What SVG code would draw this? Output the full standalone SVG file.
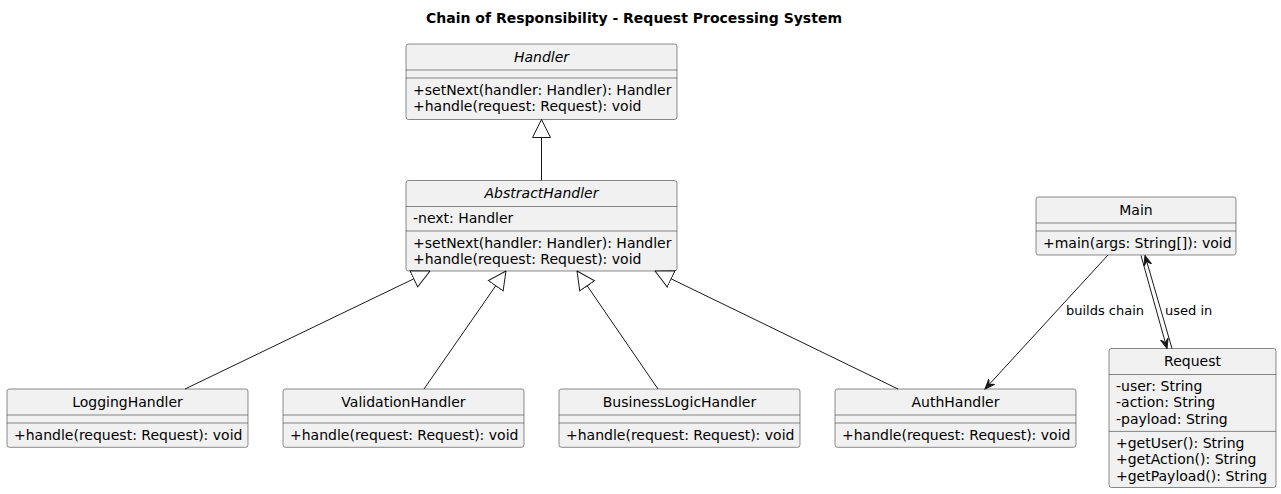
<svg xmlns="http://www.w3.org/2000/svg" width="1281" height="494" viewBox="0 0 1281 494">
<style>
text{font-family:"DejaVu Sans",Verdana,sans-serif;font-size:14px;fill:#000}
.title{font-weight:bold;text-anchor:middle}
.name{text-anchor:middle}
.abs{font-style:italic}
.box{fill:#F1F1F1;stroke:#181818;stroke-width:0.5}
.sep{stroke:#181818;stroke-width:0.5}
.edge{fill:none;stroke:#181818;stroke-width:1}
.lbl{font-size:13px}
</style>
<defs>
<marker id="tri" viewBox="0 0 19 20" refX="18.5" refY="10" markerWidth="19" markerHeight="20" markerUnits="userSpaceOnUse" orient="auto">
<path d="M18.5,10 L0.5,1 L0.5,19 Z" fill="#FFFFFF" stroke="#181818" stroke-width="1"/>
</marker>
<marker id="arr" viewBox="0 0 11 10" refX="10" refY="5" markerWidth="11" markerHeight="10" markerUnits="userSpaceOnUse" orient="auto">
<path d="M10,5 L0,1 L4,5 L0,9 Z" fill="#181818" stroke="#181818" stroke-width="1"/>
</marker>
</defs>
<rect width="1281" height="494" fill="#FFFFFF"/>
<text class="title" x="634" y="23">Chain of Responsibility - Request Processing System</text>

<g id="Handler">
<rect class="box" x="406" y="44" width="271" height="75.5" rx="2.5"/>
<text class="name abs" x="541.5" y="61.5">Handler</text>
<line class="sep" x1="406" y1="70" x2="677" y2="70"/>
<line class="sep" x1="406" y1="78" x2="677" y2="78"/>
<text x="413" y="94.5">+setNext(handler: Handler): Handler</text>
<text x="413" y="110.8">+handle(request: Request): void</text>
</g>

<g id="AbstractHandler">
<rect class="box" x="406" y="180.5" width="271" height="90.5" rx="2.5"/>
<text class="name abs" x="541.5" y="198">AbstractHandler</text>
<line class="sep" x1="406" y1="206.5" x2="677" y2="206.5"/>
<text x="413" y="223">-next: Handler</text>
<line class="sep" x1="406" y1="231" x2="677" y2="231"/>
<text x="413" y="247.5">+setNext(handler: Handler): Handler</text>
<text x="413" y="263.8">+handle(request: Request): void</text>
</g>

<g id="LoggingHandler">
<rect class="box" x="7" y="389" width="241" height="58.3" rx="2.5"/>
<text class="name" x="127.5" y="406.5">LoggingHandler</text>
<line class="sep" x1="7" y1="415" x2="248" y2="415"/>
<line class="sep" x1="7" y1="423" x2="248" y2="423"/>
<text x="14" y="439.5">+handle(request: Request): void</text>
</g>

<g id="ValidationHandler">
<rect class="box" x="283" y="389" width="241" height="58.3" rx="2.5"/>
<text class="name" x="403.5" y="406.5">ValidationHandler</text>
<line class="sep" x1="283" y1="415" x2="524" y2="415"/>
<line class="sep" x1="283" y1="423" x2="524" y2="423"/>
<text x="290" y="439.5">+handle(request: Request): void</text>
</g>

<g id="BusinessLogicHandler">
<rect class="box" x="559" y="389" width="241" height="58.3" rx="2.5"/>
<text class="name" x="679.5" y="406.5">BusinessLogicHandler</text>
<line class="sep" x1="559" y1="415" x2="800" y2="415"/>
<line class="sep" x1="559" y1="423" x2="800" y2="423"/>
<text x="566" y="439.5">+handle(request: Request): void</text>
</g>

<g id="AuthHandler">
<rect class="box" x="835" y="389" width="241" height="58.3" rx="2.5"/>
<text class="name" x="955.5" y="406.5">AuthHandler</text>
<line class="sep" x1="835" y1="415" x2="1076" y2="415"/>
<line class="sep" x1="835" y1="423" x2="1076" y2="423"/>
<text x="842" y="439.5">+handle(request: Request): void</text>
</g>

<g id="Main">
<rect class="box" x="1036" y="197" width="200" height="58" rx="2.5"/>
<text class="name" x="1136" y="214.5">Main</text>
<line class="sep" x1="1036" y1="223" x2="1236" y2="223"/>
<line class="sep" x1="1036" y1="231" x2="1236" y2="231"/>
<text x="1043" y="247.5">+main(args: String[]): void</text>
</g>

<g id="Request">
<rect class="box" x="1109" y="348.5" width="167" height="139" rx="2.5"/>
<text class="name" x="1192.5" y="366">Request</text>
<line class="sep" x1="1109" y1="374.5" x2="1276" y2="374.5"/>
<text x="1116" y="391">-user: String</text>
<text x="1116" y="407.3">-action: String</text>
<text x="1116" y="423.6">-payload: String</text>
<line class="sep" x1="1109" y1="431.4" x2="1276" y2="431.4"/>
<text x="1116" y="447.9">+getUser(): String</text>
<text x="1116" y="464.2">+getAction(): String</text>
<text x="1116" y="480.5">+getPayload(): String</text>
</g>

<g id="connectors">
<line class="edge" x1="541.5" y1="180.5" x2="541.5" y2="119.5" marker-end="url(#tri)"/>
<line class="edge" x1="185" y1="389" x2="430" y2="271" marker-end="url(#tri)"/>
<line class="edge" x1="424" y1="389" x2="506" y2="271" marker-end="url(#tri)"/>
<line class="edge" x1="658" y1="389" x2="577" y2="271" marker-end="url(#tri)"/>
<line class="edge" x1="898" y1="389" x2="655" y2="271" marker-end="url(#tri)"/>
<line class="edge" x1="1108" y1="255" x2="985" y2="389" marker-end="url(#arr)"/>
<text class="lbl" x="1066" y="314.5">builds chain</text>
<line class="edge" x1="1141" y1="255.5" x2="1167" y2="348.5" marker-end="url(#arr)"/>
<line class="edge" x1="1172" y1="348.5" x2="1145" y2="255.5" marker-end="url(#arr)"/>
<text class="lbl" x="1165" y="314.5">used in</text>
</g>
</svg>
